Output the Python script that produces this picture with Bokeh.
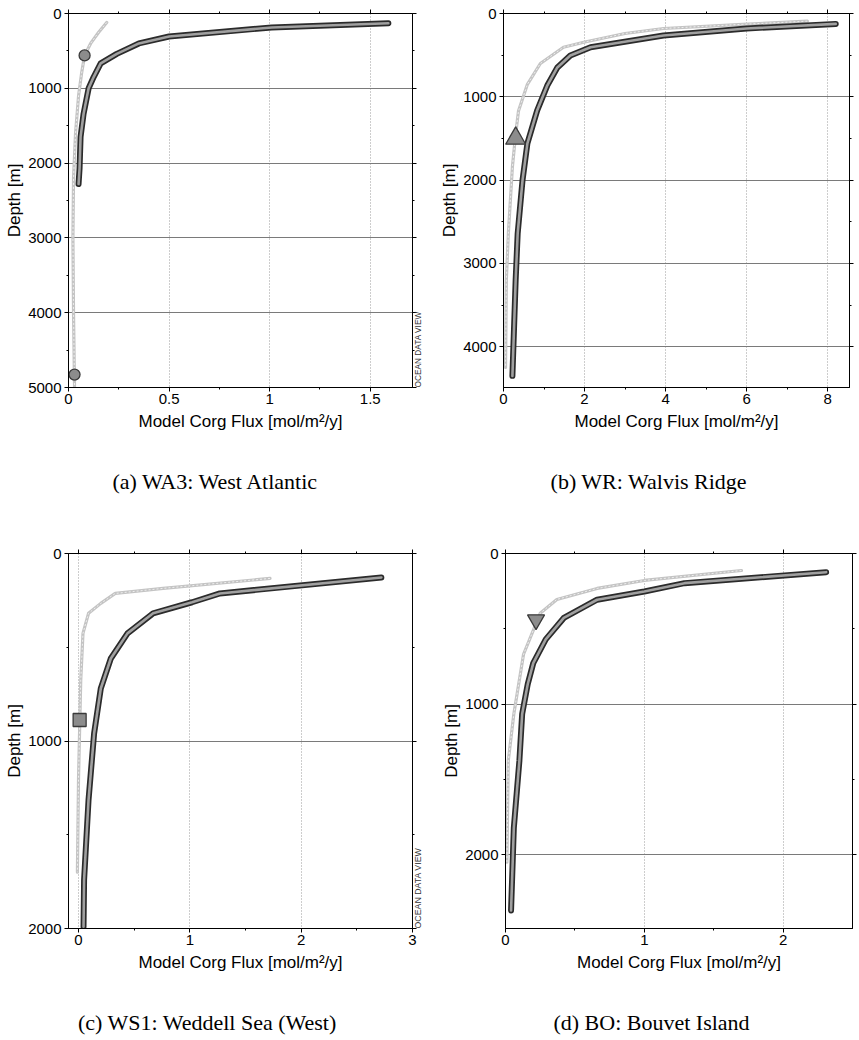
import math
from bokeh.plotting import figure
from bokeh.models import (Range1d, FixedTicker, LinearAxis,
                          CustomLabelingPolicy)
from bokeh.layouts import column, row
from bokeh.embed import file_html
from bokeh.resources import INLINE

# ---------------- data ----------------
# (a) WA3: West Atlantic
a_dark_flux = [1.59, 1.01, 0.50, 0.35, 0.24, 0.16, 0.125, 0.10, 0.075, 0.06, 0.055, 0.05]
a_dark_depth = [130, 187, 307, 400, 540, 667, 850, 1000, 1340, 1650, 2070, 2280]
a_light_flux = [0.19, 0.15, 0.11, 0.08, 0.065, 0.05, 0.035, 0.025, 0.022, 0.025, 0.03]
a_light_depth = [120, 250, 400, 560, 800, 1100, 1600, 2200, 3000, 4000, 5000]
a_obs_flux = [0.08, 0.03]
a_obs_depth = [560, 4827]
a_xticks = [0, 0.5, 1, 1.5]
a_xlabels = ["0", "0.5", "1", "1.5"]
a_xminor = [0.25, 0.75, 1.25]
a_yticks = [0, 1000, 2000, 3000, 4000, 5000]
a_yminor = [500, 1500, 2500, 3500, 4500]

# (b) WR: Walvis Ridge
b_dark_flux = [8.2, 6.0, 3.95, 2.15, 1.65, 1.33, 1.08, 0.83, 0.59, 0.47, 0.35, 0.30, 0.22]
b_dark_depth = [125, 180, 265, 405, 505, 648, 865, 1165, 1560, 2000, 2640, 3200, 4350]
b_light_flux = [7.5, 5.9, 3.95, 3.0, 1.98, 1.48, 0.91, 0.59, 0.37, 0.30, 0.22, 0.12, 0.07, 0.05]
b_light_depth = [92, 130, 180, 240, 345, 405, 600, 850, 1170, 1450, 1840, 2640, 3200, 4250]
b_obs_flux = [0.30]
b_obs_depth = [1500]
b_xticks = [0, 2, 4, 6, 8]
b_xlabels = ["0", "2", "4", "6", "8"]
b_xminor = [1, 3, 5, 7]
b_yticks = [0, 1000, 2000, 3000, 4000]
b_yminor = [500, 1500, 2500, 3500]

# (c) WS1: Weddell Sea (West)
c_dark_flux = [2.72, 1.27, 1.02, 0.67, 0.44, 0.29, 0.20, 0.14, 0.09, 0.05, 0.045]
c_dark_depth = [128, 213, 260, 319, 426, 560, 720, 960, 1314, 1740, 1990]
c_light_flux = [1.72, 0.76, 0.33, 0.20, 0.09, 0.04, 0.02, 0.0, -0.01]
c_light_depth = [133, 186, 213, 266, 319, 426, 675, 1200, 1700]
c_obs_flux = [0.01]
c_obs_depth = [888]
c_xticks = [0, 1, 2, 3]
c_xlabels = ["0", "1", "2", "3"]
c_xminor = [0.5, 1.5, 2.5]
c_yticks = [0, 1000, 2000]
c_yminor = [500, 1500]

# (d) BO: Bouvet Island
d_dark_flux = [2.31, 1.29, 1.0, 0.66, 0.42, 0.29, 0.20, 0.16, 0.12, 0.10, 0.06, 0.04]
d_dark_depth = [124, 197, 252, 307, 428, 570, 728, 868, 1066, 1377, 1821, 2370]
d_light_flux = [1.70, 1.0, 0.66, 0.37, 0.25, 0.13, 0.06, 0.02, 0.01]
d_light_depth = [113, 179, 232, 305, 397, 669, 1066, 1377, 2050]
d_obs_flux = [0.22]
d_obs_depth = [440]
d_xticks = [0, 1, 2]
d_xlabels = ["0", "1", "2"]
d_xminor = [0.5, 1.5]
d_yticks = [0, 1000, 2000]
d_yminor = [500, 1500, 2500]

XLABEL = "Model Corg Flux [mol/m²/y]"
YLABEL = "Depth [m]"
ODV = "OCEAN DATA VIEW"
NBSP = "\u00a0"


def style_axis(ax, show_labels):
    ax.axis_line_color = "black"
    ax.axis_line_width = 1
    ax.major_tick_line_color = "black"
    ax.minor_tick_line_color = "black"
    ax.major_tick_out = 4
    ax.major_tick_in = 0
    ax.minor_tick_out = 2
    ax.minor_tick_in = 0
    ax.major_label_text_font = "Liberation Sans"
    ax.major_label_text_color = "black"
    ax.axis_label_text_font = "Liberation Sans"
    ax.axis_label_text_font_style = "normal"
    ax.axis_label_text_font_size = "17px"
    ax.axis_label_text_color = "black"
    if show_labels:
        ax.major_label_text_font_size = "15px"
    else:
        ax.major_label_text_font_size = "0px"
        ax.major_label_policy = CustomLabelingPolicy(code="return new Set()")
        ax.major_label_standoff = 0


def panel(W, H, left, right, top, bottom, xr, ymax, xt, xl, xm, yt, ym,
          dflux, ddepth, lflux, ldepth, oflux, odepth, marker, msize,
          caption, cap_pad, cap_standoff, odv_size=None):
    p = figure(width=W, height=H, x_range=Range1d(xr[0], xr[1]),
               y_range=Range1d(ymax, 0), output_backend="svg",
               toolbar_location=None, title_location=None,
               min_border_left=left, min_border_right=right,
               min_border_top=top, min_border_bottom=bottom)
    p.outline_line_color = "black"
    p.outline_line_width = 1
    p.outline_line_alpha = 1
    p.background_fill_color = "white"
    p.border_fill_color = "white"

    xtk = FixedTicker(ticks=xt, minor_ticks=xm)
    ytk = FixedTicker(ticks=yt, minor_ticks=ym)

    bx = p.xaxis[0]
    ly = p.yaxis[0]
    bx.ticker = xtk
    ly.ticker = ytk
    bx.major_label_overrides = {float(t): s for t, s in zip(xt, xl)}
    ly.major_label_overrides = {float(t): str(t) for t in yt}
    bx.axis_label = XLABEL
    ly.axis_label = YLABEL
    style_axis(bx, True)
    style_axis(ly, True)
    bx.major_label_standoff = 2
    bx.axis_label_standoff = 5
    ly.major_label_standoff = 3
    ly.axis_label_standoff = 1

    tax = LinearAxis(ticker=xtk)
    rax = LinearAxis(ticker=ytk)
    style_axis(tax, False)
    style_axis(rax, False)
    if odv_size:
        rax.axis_label = ODV
        rax.axis_label_text_font_size = odv_size
        rax.axis_label_text_color = "#333333"
        rax.axis_label_standoff = 1
        rax.axis_label_orientation = math.pi / 2
        rax.axis_label_align = "end"
    p.add_layout(tax, "above")
    p.add_layout(rax, "right")

    # caption below the x axis (an axis without line/ticks carrying the caption)
    cax = LinearAxis(ticker=xtk)
    style_axis(cax, False)
    cax.axis_line_color = None
    cax.major_tick_line_color = None
    cax.minor_tick_line_color = None
    cax.major_tick_out = 0
    cax.minor_tick_out = 0
    cax.axis_label = caption + NBSP * cap_pad
    cax.axis_label_text_font = "Liberation Serif"
    cax.axis_label_text_font_size = "22px"
    cax.axis_label_text_font_style = "normal"
    cax.axis_label_standoff = cap_standoff
    p.add_layout(cax, "below")

    p.xgrid.ticker = xtk
    p.ygrid.ticker = ytk
    p.xgrid.grid_line_color = "#9a9a9a"
    p.xgrid.grid_line_dash = "1 2"
    p.xgrid.grid_line_width = 1
    p.ygrid.grid_line_color = "#7a7a7a"
    p.ygrid.grid_line_width = 1

    # light model profile
    p.line(lflux, ldepth, line_width=3.2, line_color="#c4c4c4",
           line_join="round", line_cap="round")
    p.line(lflux, ldepth, line_width=1, line_color="#eeeeee",
           line_dash="2 2", line_join="round")
    # dark model profile
    p.line(dflux, ddepth, line_width=6, line_color="#2b2b2b",
           line_join="round", line_cap="round")
    p.line(dflux, ddepth, line_width=2.6, line_color="#a0a0a0",
           line_join="round", line_cap="round")
    # observation
    p.scatter(oflux, odepth, marker=marker, size=msize, fill_color="#8c8c8c",
              line_color="#3a3a3a", line_width=1.3)
    return p


pa = panel(430, 520, 68, 18, 13, 132, (0, 1.71), 5000,
           a_xticks, a_xlabels, a_xminor, a_yticks, a_yminor,
           a_dark_flux, a_dark_depth, a_light_flux, a_light_depth,
           a_obs_flux, a_obs_depth, "circle", 11,
           "(a) WA3: West Atlantic", 9, 35, "8.3px")

pb = panel(429, 520, 73, 10, 13, 133, (0, 8.54), 4490,
           b_xticks, b_xlabels, b_xminor, b_yticks, b_yminor,
           b_dark_flux, b_dark_depth, b_light_flux, b_light_depth,
           b_obs_flux, b_obs_depth, "triangle", 20,
           "(b) WR: Walvis Ridge", 10, 35)

pc = panel(430, 520, 68, 17, 33, 111, (-0.09, 3.0), 2000,
           c_xticks, c_xlabels, c_xminor, c_yticks, c_yminor,
           c_dark_flux, c_dark_depth, c_light_flux, c_light_depth,
           c_obs_flux, c_obs_depth, "square", 13,
           "(c) WS1: Weddell Sea (West)", 12, 35, "8.8px")

pd_ = panel(429, 520, 75, 7, 32, 112, (0, 2.5), 2490,
            d_xticks, d_xlabels, d_xminor, d_yticks, d_yminor,
            d_dark_flux, d_dark_depth, d_light_flux, d_light_depth,
            d_obs_flux, d_obs_depth, "inverted_triangle", 17,
            "(d) BO: Bouvet Island", 10, 35)

layout = column(row(pa, pb), row(pc, pd_))

open("out.html", "w").write(file_html(layout, INLINE))
